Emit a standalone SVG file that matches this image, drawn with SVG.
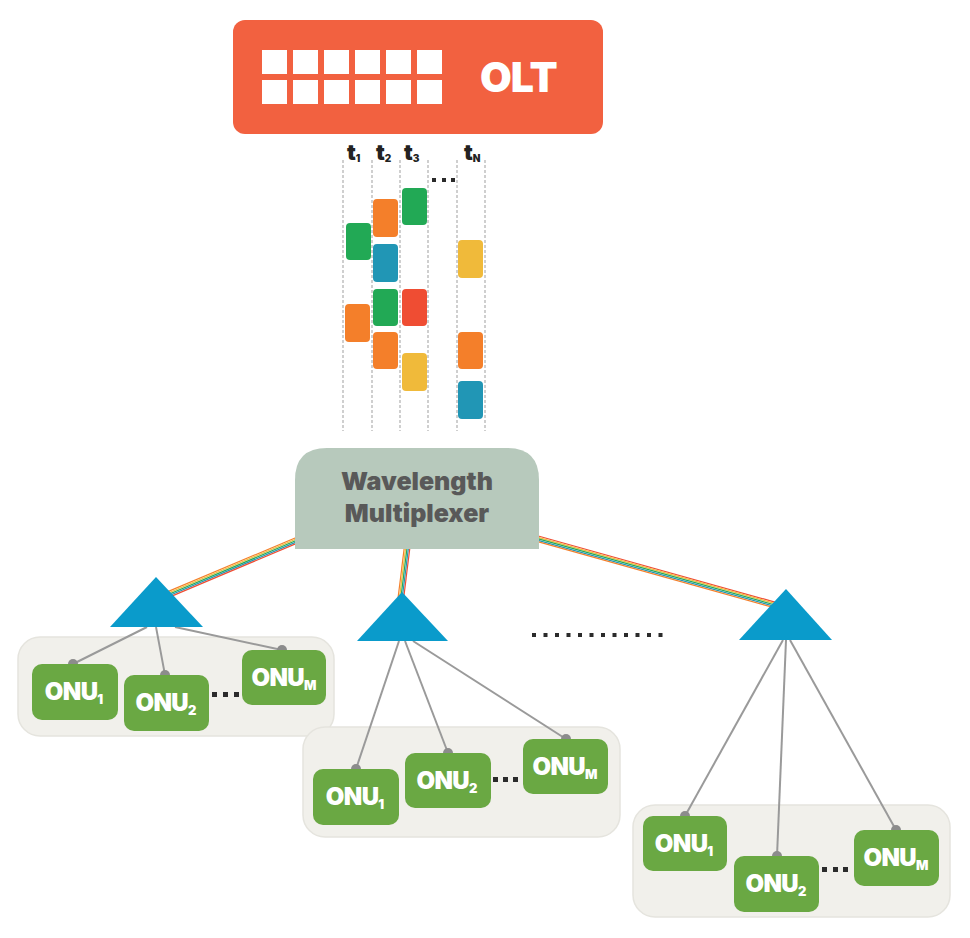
<svg xmlns="http://www.w3.org/2000/svg" width="970" height="938" viewBox="0 0 970 938">
<style>
.dash{stroke:#C4C4C4;stroke-width:1.6;stroke-dasharray:3 2;fill:none}
.tl{font-family:Inter,Roboto,"Liberation Sans",sans-serif;font-weight:900;font-size:22px;fill:#222}
.ts{font-size:10px}
.g{fill:#22A955}.o{fill:#F47F2A}.b{fill:#2196B5}.y{fill:#F0BA3A}.r{fill:#EF4D33}
.grp{fill:#F1F0EB;stroke:#E5E4DE;stroke-width:1.5}
.onu{fill:#6AA843}
.ot{font-family:Inter,Roboto,"Liberation Sans",sans-serif;font-weight:900;font-size:24px;letter-spacing:-0.6px;fill:#fff;text-anchor:middle}
.sub{font-size:13px;letter-spacing:0}
.wire{stroke:#9A9A9A;stroke-width:2;fill:none}
.dot{fill:#8C8C8C}
.sq{fill:#2B2B2B}
.tri{fill:#0A9BCB}
.f{stroke-width:1.2;fill:none}
.big{font-family:Inter,Roboto,"Liberation Sans",sans-serif;font-weight:900}
</style>

<g id="olt">
<rect x="233" y="20" width="370" height="114" rx="12" fill="#F26140"/>
<g fill="#fff">
<rect x="262" y="50" width="25" height="24"/><rect x="293" y="50" width="25" height="24"/><rect x="324" y="50" width="25" height="24"/><rect x="355" y="50" width="25" height="24"/><rect x="386" y="50" width="25" height="24"/><rect x="417" y="50" width="25" height="24"/>
<rect x="262" y="80" width="25" height="24"/><rect x="293" y="80" width="25" height="24"/><rect x="324" y="80" width="25" height="24"/><rect x="355" y="80" width="25" height="24"/><rect x="386" y="80" width="25" height="24"/><rect x="417" y="80" width="25" height="24"/>
</g>
<text class="big" x="480" y="92" font-size="41" letter-spacing="-1" fill="#fff">OLT</text>
</g>

<g id="timeslots">
<line class="dash" x1="343" y1="160" x2="343" y2="431"/>
<line class="dash" x1="372" y1="160" x2="372" y2="431"/>
<line class="dash" x1="400" y1="160" x2="400" y2="431"/>
<line class="dash" x1="428" y1="160" x2="428" y2="431"/>
<line class="dash" x1="457" y1="160" x2="457" y2="431"/>
<line class="dash" x1="485" y1="160" x2="485" y2="431"/>
<text class="tl" x="347" y="160">t<tspan class="ts" dy="2">1</tspan></text>
<text class="tl" x="376" y="160">t<tspan class="ts" dy="2">2</tspan></text>
<text class="tl" x="404" y="160">t<tspan class="ts" dy="2">3</tspan></text>
<text class="tl" x="464" y="160">t<tspan class="ts" dy="2">N</tspan></text>
<rect class="sq" x="432" y="178" width="4" height="4"/><rect class="sq" x="442" y="178" width="4" height="4"/><rect class="sq" x="451" y="178" width="4" height="4"/>
<rect class="g" x="346" y="223" width="25" height="37" rx="4"/>
<rect class="o" x="345" y="304" width="25" height="38" rx="4"/>
<rect class="o" x="373" y="199" width="25" height="38" rx="4"/>
<rect class="b" x="373" y="244" width="25" height="38" rx="4"/>
<rect class="g" x="373" y="289" width="25" height="37" rx="4"/>
<rect class="o" x="373" y="332" width="25" height="37" rx="4"/>
<rect class="g" x="402" y="188" width="25" height="37" rx="4"/>
<rect class="r" x="402" y="289" width="25" height="37" rx="4"/>
<rect class="y" x="402" y="353" width="25" height="38" rx="4"/>
<rect class="y" x="458" y="240" width="25" height="38" rx="4"/>
<rect class="o" x="458" y="332" width="25" height="37" rx="4"/>
<rect class="b" x="458" y="381" width="25" height="38" rx="4"/>
</g>

<g id="connectors">
<g id="fiber-left">
<line class="f" stroke="#F47F2A" x1="303.91" y1="534.22" x2="158.91" y2="595.42"/>
<line class="f" stroke="#F0BA3A" x1="304.46" y1="535.51" x2="159.46" y2="596.71"/>
<line class="f" stroke="#22A955" x1="305" y1="536.8" x2="160" y2="598"/>
<line class="f" stroke="#2196B5" x1="305.54" y1="538.09" x2="160.54" y2="599.29"/>
<line class="f" stroke="#EF4D33" x1="306.09" y1="539.38" x2="161.09" y2="600.58"/>
</g>
<g id="fiber-mid">
<line class="f" stroke="#F47F2A" x1="405.2" y1="540" x2="397.2" y2="605"/>
<line class="f" stroke="#F0BA3A" x1="406.6" y1="540" x2="398.6" y2="605"/>
<line class="f" stroke="#22A955" x1="408" y1="540" x2="400" y2="605"/>
<line class="f" stroke="#2196B5" x1="409.4" y1="540" x2="401.4" y2="605"/>
<line class="f" stroke="#EF4D33" x1="410.8" y1="540" x2="402.8" y2="605"/>
</g>
<g id="fiber-right">
<line class="f" stroke="#EF4D33" x1="525.75" y1="532.5" x2="775.75" y2="602.3"/>
<line class="f" stroke="#F0BA3A" x1="525.38" y1="533.85" x2="775.38" y2="603.65"/>
<line class="f" stroke="#22A955" x1="525" y1="535.2" x2="775" y2="605"/>
<line class="f" stroke="#2196B5" x1="524.62" y1="536.55" x2="774.62" y2="606.35"/>
<line class="f" stroke="#F47F2A" x1="524.25" y1="537.9" x2="774.25" y2="607.7"/>
</g>
</g>

<g id="mux">
<path d="M295,549 V480 Q295,448 327,448 H507 Q539,448 539,480 V549 Z" fill="#B7C9BC"/>
<text class="big" x="417" y="490" text-anchor="middle" font-size="25" fill="#595959">Wavelength</text>
<text class="big" x="417" y="522" text-anchor="middle" font-size="25" fill="#595959">Multiplexer</text>
</g>

<g id="group1">
<rect class="grp" x="18" y="637" width="316" height="99" rx="22"/>
</g>
<g id="group2">
<rect class="grp" x="303" y="727" width="317" height="110" rx="22"/>
</g>
<g id="group3">
<rect class="grp" x="633" y="805" width="317" height="112" rx="22"/>
</g>

<g id="drop-wires">
<line class="wire" x1="147" y1="627" x2="73" y2="664"/>
<line class="wire" x1="156" y1="627" x2="165" y2="675"/>
<line class="wire" x1="175" y1="627" x2="282" y2="650"/>
<line class="wire" x1="399" y1="641" x2="356" y2="769"/>
<line class="wire" x1="405" y1="641" x2="448" y2="753"/>
<line class="wire" x1="413" y1="641" x2="566" y2="739"/>
<line class="wire" x1="783" y1="640" x2="685" y2="816"/>
<line class="wire" x1="786" y1="640" x2="777" y2="856"/>
<line class="wire" x1="790" y1="640" x2="896" y2="830"/>
<circle class="dot" cx="73" cy="664" r="5"/><circle class="dot" cx="165" cy="675" r="5"/><circle class="dot" cx="282" cy="650" r="5"/>
<circle class="dot" cx="356" cy="769" r="5"/><circle class="dot" cx="448" cy="753" r="5"/><circle class="dot" cx="566" cy="739" r="5"/>
<circle class="dot" cx="685" cy="816" r="5"/><circle class="dot" cx="777" cy="856" r="5"/><circle class="dot" cx="896" cy="830" r="5"/>
</g>

<g id="splitter1"><polygon class="tri" points="156,577 203,627 110,627"/></g>
<g id="splitter2"><polygon class="tri" points="402,592 448,641 357,641"/></g>
<g id="splitter3"><polygon class="tri" points="786,589 832,640 739,640"/></g>

<g id="g1-onu1"><rect class="onu" x="32" y="664" width="86" height="56" rx="10"/><text class="ot" x="74" y="700">ONU<tspan class="sub" dy="4">1</tspan></text></g>
<g id="g1-onu2"><rect class="onu" x="124" y="675" width="85" height="56" rx="10"/><text class="ot" x="166" y="711">ONU<tspan class="sub" dy="4">2</tspan></text></g>
<g id="g1-onum"><rect class="onu" x="242" y="650" width="84" height="55" rx="10"/><text class="ot" x="284" y="686">ONU<tspan class="sub" dy="4">M</tspan></text></g>
<g id="g1-dots"><rect class="sq" x="212" y="692" width="5" height="5"/><rect class="sq" x="223" y="692" width="5" height="5"/><rect class="sq" x="234" y="692" width="5" height="5"/></g>

<g id="g2-onu1"><rect class="onu" x="313" y="769" width="86" height="56" rx="10"/><text class="ot" x="355" y="805">ONU<tspan class="sub" dy="4">1</tspan></text></g>
<g id="g2-onu2"><rect class="onu" x="405" y="753" width="86" height="55" rx="10"/><text class="ot" x="447" y="789">ONU<tspan class="sub" dy="4">2</tspan></text></g>
<g id="g2-onum"><rect class="onu" x="523" y="739" width="85" height="55" rx="10"/><text class="ot" x="565" y="775">ONU<tspan class="sub" dy="4">M</tspan></text></g>
<g id="g2-dots"><rect class="sq" x="493" y="777" width="5" height="5"/><rect class="sq" x="503" y="777" width="5" height="5"/><rect class="sq" x="513" y="777" width="5" height="5"/></g>

<g id="g3-onu1"><rect class="onu" x="643" y="816" width="84" height="55" rx="10"/><text class="ot" x="684" y="852">ONU<tspan class="sub" dy="4">1</tspan></text></g>
<g id="g3-onu2"><rect class="onu" x="734" y="856" width="85" height="56" rx="10"/><text class="ot" x="776" y="892">ONU<tspan class="sub" dy="4">2</tspan></text></g>
<g id="g3-onum"><rect class="onu" x="854" y="830" width="85" height="56" rx="10"/><text class="ot" x="896" y="866">ONU<tspan class="sub" dy="4">M</tspan></text></g>
<g id="g3-dots"><rect class="sq" x="822" y="867" width="5" height="5"/><rect class="sq" x="833" y="867" width="5" height="5"/><rect class="sq" x="843" y="867" width="5" height="5"/></g>

<g id="ellipsis">
<rect class="sq" x="532" y="633" width="4" height="4"/><rect class="sq" x="543.5" y="633" width="4" height="4"/><rect class="sq" x="555" y="633" width="4" height="4"/><rect class="sq" x="566.5" y="633" width="4" height="4"/><rect class="sq" x="578" y="633" width="4" height="4"/><rect class="sq" x="589.5" y="633" width="4" height="4"/><rect class="sq" x="601" y="633" width="4" height="4"/><rect class="sq" x="612.5" y="633" width="4" height="4"/><rect class="sq" x="624" y="633" width="4" height="4"/><rect class="sq" x="635.5" y="633" width="4" height="4"/><rect class="sq" x="647" y="633" width="4" height="4"/><rect class="sq" x="658.5" y="633" width="4" height="4"/>
</g>
</svg>
